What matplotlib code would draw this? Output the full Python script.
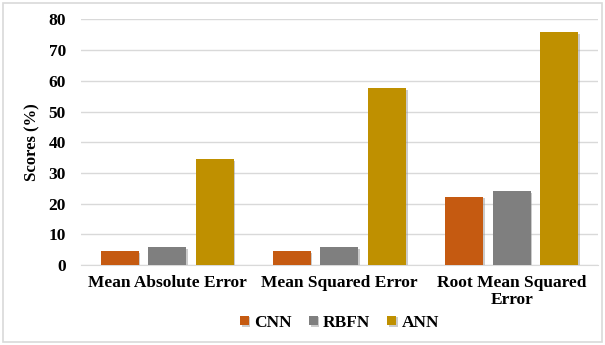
import matplotlib
matplotlib.use("Agg")
import matplotlib.pyplot as plt
import matplotlib.patheffects as pe
from matplotlib.patches import Rectangle
import numpy as np

categories = ["Mean Absolute Error", "Mean Squared Error", "Root Mean Squared\nError"]
series_names = ["CNN", "RBFN", "ANN"]
cnn = [4.6, 4.6, 22.3]
rbfn = [5.8, 5.8, 24.1]
ann = [34.4, 57.7, 75.8]
colors = ["#c55a11", "#7f7f7f", "#bf9000"]
yticks = [0, 10, 20, 30, 40, 50, 60, 70, 80]

plt.rcParams["font.family"] = ["Liberation Serif", "DejaVu Serif"]
plt.rcParams["font.weight"] = "bold"

fig = plt.figure(figsize=(6.05, 3.45), dpi=100)
ax = fig.add_axes([0.134, 0.232, 0.854, 0.7115])

x = np.arange(len(categories))
width = 0.22
step = 0.276
shadow = [pe.SimplePatchShadow(offset=(1.2, -1.2), shadow_rgbFace="#999999", alpha=0.5), pe.Normal()]
for i, (vals, name, col) in enumerate(zip([cnn, rbfn, ann], series_names, colors)):
    bars = ax.bar(x + (i - 1) * step, vals, width, color=col, label=name, zorder=3)
    for b in bars:
        b.set_path_effects(shadow)

ax.set_xlim(-0.5, 2.5)
ax.set_ylim(0, 80)
ax.set_yticks(yticks)
ax.set_yticklabels([str(t) for t in yticks], fontsize=12.5, fontweight="bold")
ax.set_xticks(x)
ax.set_xticklabels(categories, fontsize=12.5, fontweight="bold", linespacing=1.15)
ax.tick_params(axis="both", length=0)
ax.tick_params(axis="y", pad=11)
ax.tick_params(axis="x", pad=7)
ax.grid(axis="y", color="#d9d9d9", linewidth=1, zorder=0)
for s in ["top", "right", "left"]:
    ax.spines[s].set_visible(False)
ax.spines["bottom"].set_color("#d9d9d9")
ax.set_ylabel("Scores (%)", fontsize=12, fontweight="bold", labelpad=6)

ax.legend(loc="center", bbox_to_anchor=(0.5, -0.235), ncol=3, frameon=False,
          handlelength=0.5, handleheight=0.5, handletextpad=0.3,
          columnspacing=1.0, prop={"weight": "bold", "size": 12.5})

fig.patches.append(Rectangle((0.005, 0.008), 0.99, 0.984, transform=fig.transFigure,
                             fill=False, edgecolor="#d9d9d9", linewidth=1.2))

fig.savefig("out.png", dpi=100)
